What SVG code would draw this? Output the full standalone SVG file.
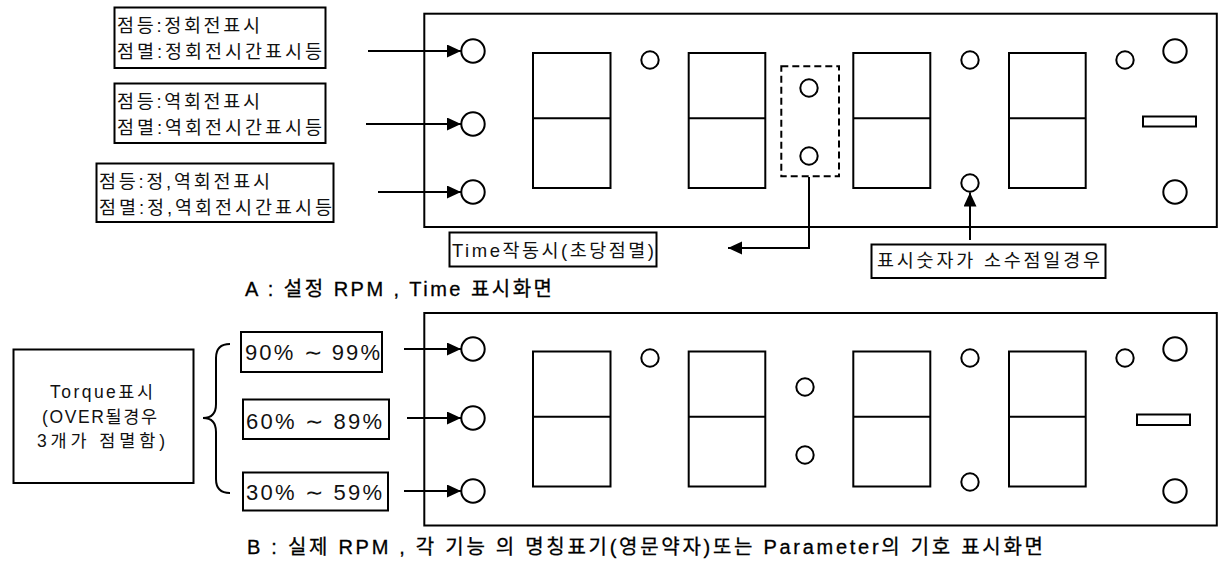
<svg xmlns="http://www.w3.org/2000/svg" width="1218" height="565" viewBox="0 0 1218 565">
<style>
.ln{fill:none;stroke:#000;stroke-width:2}
.box{fill:#fff;stroke:#000;stroke-width:2}
.dash{fill:none;stroke:#000;stroke-width:2;stroke-dasharray:7 4}
.t{font-family:"Liberation Sans","Noto Sans CJK KR",sans-serif;fill:#111}
.lab{font-size:18.5px}
.rng{font-size:22px}
.tq{font-size:17.5px}
.cap{font-size:20px;fill:#000;stroke:#000;stroke-width:0.3}
</style>
<defs>
<marker id="ah" markerUnits="userSpaceOnUse" markerWidth="15" markerHeight="14" refX="14" refY="6.5" orient="auto">
<path d="M0,0 L14,6.5 L0,13 z" fill="#000"/>
</marker>
</defs>

<!-- Panel A -->
<g id="panelA">
<rect class="ln" x="424.3" y="13.7" width="792.5" height="213.3"/>
<circle class="ln" cx="473" cy="51" r="11.7"/>
<circle class="ln" cx="473" cy="124" r="11.7"/>
<circle class="ln" cx="473" cy="192" r="11.7"/>
<rect class="ln" x="533" y="53" width="77.5" height="135"/>
<line class="ln" x1="533" y1="118.3" x2="610.5" y2="118.3"/>
<circle class="ln" cx="650" cy="60" r="8.7"/>
<rect class="ln" x="688.7" y="53" width="76.6" height="135"/>
<line class="ln" x1="688.7" y1="118.3" x2="765.3" y2="118.3"/>
<rect class="dash" x="781.3" y="66.3" width="57.7" height="110"/>
<circle class="ln" cx="809" cy="88" r="8.7"/>
<circle class="ln" cx="809" cy="156" r="8.7"/>
<rect class="ln" x="853.3" y="53" width="77" height="135"/>
<line class="ln" x1="853.3" y1="118.3" x2="930.3" y2="118.3"/>
<circle class="ln" cx="970" cy="60" r="8.7"/>
<circle class="ln" cx="970" cy="183" r="8.7"/>
<rect class="ln" x="1009" y="53" width="76.7" height="135"/>
<line class="ln" x1="1009" y1="118.3" x2="1085.7" y2="118.3"/>
<circle class="ln" cx="1125" cy="60" r="8.7"/>
<circle class="ln" cx="1175" cy="51" r="11.7"/>
<circle class="ln" cx="1175" cy="192" r="11.7"/>
<rect class="ln" x="1143" y="116.5" width="53" height="10"/>
</g>

<!-- Panel B -->
<g id="panelB">
<rect class="ln" x="424.3" y="313" width="792.5" height="212.5"/>
<circle class="ln" cx="473" cy="349" r="11.7"/>
<circle class="ln" cx="473" cy="418" r="11.7"/>
<circle class="ln" cx="473" cy="491" r="11.7"/>
<rect class="ln" x="533" y="351.5" width="77.5" height="135"/>
<line class="ln" x1="533" y1="416.7" x2="610.5" y2="416.7"/>
<circle class="ln" cx="650" cy="358" r="8.7"/>
<rect class="ln" x="688.7" y="351.5" width="76.6" height="135"/>
<line class="ln" x1="688.7" y1="416.7" x2="765.3" y2="416.7"/>
<circle class="ln" cx="805" cy="387" r="8.7"/>
<circle class="ln" cx="805" cy="455" r="8.7"/>
<rect class="ln" x="853.3" y="351.5" width="77" height="135"/>
<line class="ln" x1="853.3" y1="416.7" x2="930.3" y2="416.7"/>
<circle class="ln" cx="970" cy="358" r="8.7"/>
<circle class="ln" cx="970" cy="482" r="8.7"/>
<rect class="ln" x="1009" y="351.5" width="76.7" height="135"/>
<line class="ln" x1="1009" y1="416.7" x2="1085.7" y2="416.7"/>
<circle class="ln" cx="1125" cy="358" r="8.7"/>
<circle class="ln" cx="1175" cy="349" r="11.7"/>
<circle class="ln" cx="1175" cy="491" r="11.7"/>
<rect class="ln" x="1137" y="414.5" width="53" height="10.5"/>
</g>

<!-- Label nodes A -->
<g id="lblFwd">
<rect class="box" x="114.5" y="7.5" width="211" height="60.5"/>
<text class="t lab" x="117" y="32" textLength="143" lengthAdjust="spacing">점등:정회전표시</text>
<text class="t lab" x="117" y="58" textLength="205" lengthAdjust="spacing">점멸:정회전시간표시등</text>
</g>
<g id="lblRev">
<rect class="box" x="114.5" y="83.5" width="211" height="59.5"/>
<text class="t lab" x="117" y="108" textLength="143" lengthAdjust="spacing">점등:역회전표시</text>
<text class="t lab" x="117" y="134" textLength="205" lengthAdjust="spacing">점멸:역회전시간표시등</text>
</g>
<g id="lblBoth">
<rect class="box" x="96.5" y="163.5" width="237" height="58.5"/>
<text class="t lab" x="99" y="188" textLength="171" lengthAdjust="spacing">점등:정,역회전표시</text>
<text class="t lab" x="99" y="214" textLength="233" lengthAdjust="spacing">점멸:정,역회전시간표시등</text>
</g>
<g id="lblTime">
<rect class="box" x="449.5" y="232.5" width="207" height="34"/>
<text class="t lab" x="452" y="257" textLength="202" lengthAdjust="spacing">Time작동시(초당점멸)</text>
</g>
<g id="lblDecimal">
<rect class="box" x="871.5" y="244.5" width="234" height="33.5"/>
<text class="t lab" x="877" y="267" textLength="223" lengthAdjust="spacing">표시숫자가 소수점일경우</text>
</g>

<!-- Label nodes B -->
<g id="lblTorque">
<rect class="box" x="13.5" y="349.5" width="180" height="133.5"/>
<text class="t tq" x="101.5" y="398" text-anchor="middle" textLength="103" lengthAdjust="spacing">Torque표시</text>
<text class="t tq" x="99.5" y="423" text-anchor="middle" textLength="115" lengthAdjust="spacing">(OVER될경우</text>
<text class="t tq" x="101" y="447" text-anchor="middle" textLength="128" lengthAdjust="spacing">3개가 점멸함)</text>
</g>
<g id="brace">
<path class="ln" d="M230,344 Q216,344 216,358 L216,404 Q216,418 203,418 Q216,418 216,432 L216,479 Q216,493 230,493"/>
</g>
<g id="rng90">
<rect class="box" x="241" y="332" width="141" height="40"/>
<text class="t rng" x="245" y="360" textLength="135" lengthAdjust="spacing">90% ∼ 99%</text>
</g>
<g id="rng60">
<rect class="box" x="243" y="399.5" width="146" height="39.5"/>
<text class="t rng" x="246" y="429" textLength="136" lengthAdjust="spacing">60% ∼ 89%</text>
</g>
<g id="rng30">
<rect class="box" x="243" y="472.5" width="145" height="38"/>
<text class="t rng" x="246" y="500" textLength="136" lengthAdjust="spacing">30% ∼ 59%</text>
</g>

<!-- Captions -->
<text class="t cap" x="245" y="296" textLength="307" lengthAdjust="spacing">A : 설정 RPM , Time 표시화면</text>
<text class="t cap" x="247" y="554" textLength="796" lengthAdjust="spacing">B : 실제 RPM , 각 기능 의 명칭표기(영문약자)또는 Parameter의 기호 표시화면</text>

<!-- Connectors -->
<g id="connectors">
<line class="ln" x1="368" y1="51" x2="461" y2="51" marker-end="url(#ah)"/>
<line class="ln" x1="366" y1="124" x2="461" y2="124" marker-end="url(#ah)"/>
<line class="ln" x1="378" y1="192" x2="461" y2="192" marker-end="url(#ah)"/>
<polyline class="ln" points="809,177 809,248 728,248" marker-end="url(#ah)"/>
<line class="ln" x1="970" y1="240" x2="970" y2="192.5" marker-end="url(#ah)"/>
<line class="ln" x1="404" y1="349" x2="461" y2="349" marker-end="url(#ah)"/>
<line class="ln" x1="407" y1="418" x2="461" y2="418" marker-end="url(#ah)"/>
<line class="ln" x1="404" y1="491" x2="461" y2="491" marker-end="url(#ah)"/>
</g>
</svg>
